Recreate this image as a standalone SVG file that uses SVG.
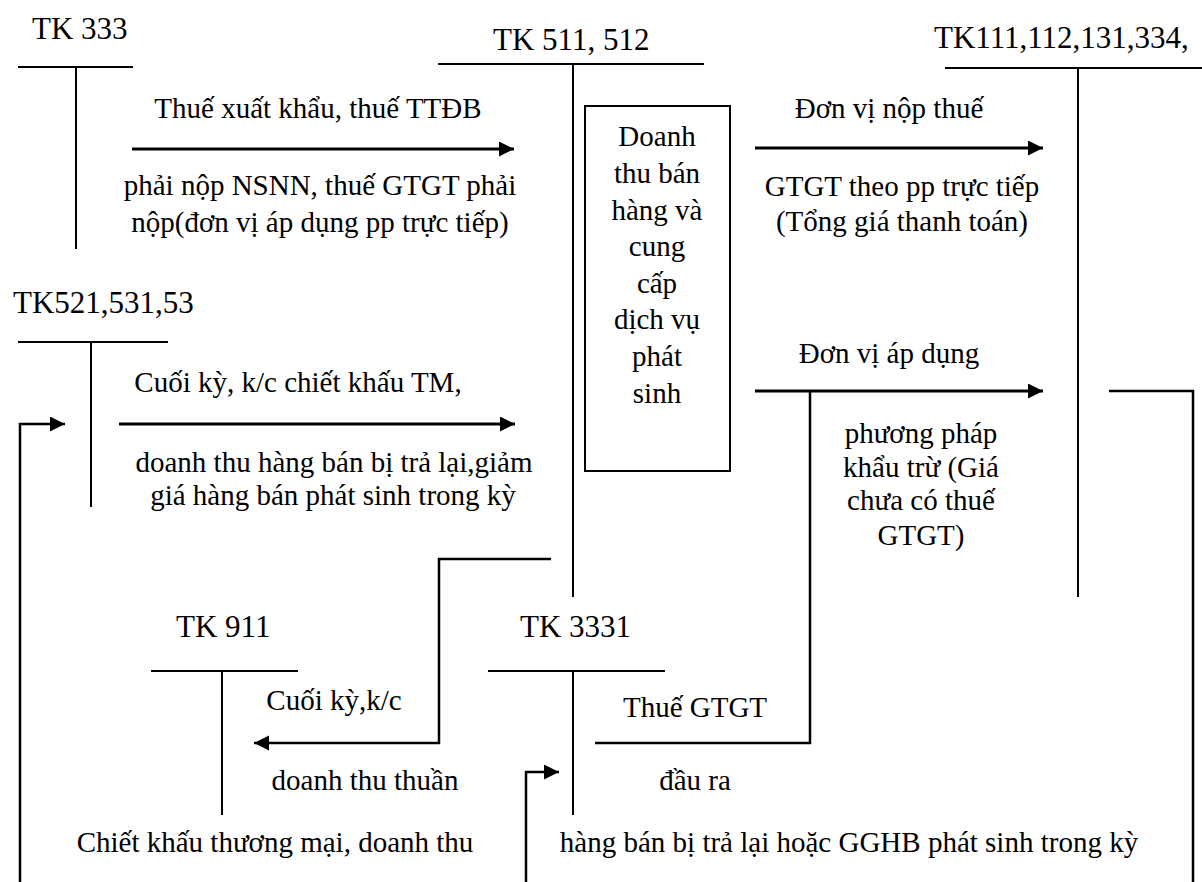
<svg xmlns="http://www.w3.org/2000/svg" width="1202" height="882" viewBox="0 0 1202 882" font-family="'Liberation Serif', 'Times New Roman', Times, 'DejaVu Serif', serif" font-size="29">
<style>
text{font-family:'Liberation Serif','Times New Roman',Times,'DejaVu Serif',serif;font-size:29px;fill:#000}
.k{font-size:31px}
.c{text-anchor:middle}
.t{stroke:#000;stroke-width:2;fill:none}
.a{stroke:#000;stroke-width:3;fill:none}
.e{stroke:#000;stroke-width:2.5;fill:none}
</style>
<defs>
<marker id="ah" markerUnits="userSpaceOnUse" markerWidth="16" markerHeight="16" refX="15" refY="7.5" orient="auto"><path d="M0,0L15,7.5L0,15z" fill="#000"/></marker>
</defs>
<rect width="1202" height="882" fill="#fff"/>
<g id="tk333"><text class="k" x="32" y="39">TK 333</text><path class="t" d="M18,67H133M76,67V249"/></g>
<g id="tk511"><text class="k" x="493" y="50">TK 511, 512</text><path class="t" d="M438,64H704M573,64V597"/></g>
<g id="box"><rect class="t" x="585" y="106" width="145" height="365"/>
<text class="c" x="657" y="146">Doanh</text>
<text class="c" x="657" y="183">thu bán</text>
<text class="c" x="657" y="220">hàng và</text>
<text class="c" x="657" y="256">cung</text>
<text class="c" x="657" y="293">cấp</text>
<text class="c" x="657" y="329">dịch vụ</text>
<text class="c" x="657" y="366">phát</text>
<text class="c" x="657" y="403">sinh</text></g>
<g id="tk111"><text class="k" x="934" y="48">TK111,112,131,334,</text><path class="t" d="M945,68H1202M1078,68V597"/></g>
<g id="tk521"><text class="k" x="13" y="313">TK521,531,53</text><path class="t" d="M18,342H168M91,342V507"/></g>
<g id="tk911"><text class="k" x="176" y="637">TK 911</text><path class="t" d="M151,671H298M222,671V815"/></g>
<g id="tk3331"><text class="k" x="520" y="637">TK 3331</text><path class="t" d="M488,671H665M573,671V815"/></g>
<g id="connectors">
<path class="a" d="M132,149H514" marker-end="url(#ah)"/>
<path class="a" d="M755,148H1043" marker-end="url(#ah)"/>
<path class="a" d="M119,424H515" marker-end="url(#ah)"/>
<path class="a" d="M755,391H1043" marker-end="url(#ah)"/>
<path class="e" d="M810,391V743H595"/>
<path class="e" d="M551,559H439V743H254" marker-end="url(#ah)"/>
<path class="e" d="M20,882V424H65" marker-end="url(#ah)"/>
<path class="e" d="M526,882V772H559" marker-end="url(#ah)"/>
<path class="e" d="M1109,391H1193V882"/>
</g>
<g id="labels">
<text class="c" x="318" y="118">Thuế xuất khẩu, thuế TTĐB</text>
<text class="c" x="320" y="195">phải nộp NSNN, thuế GTGT phải</text>
<text class="c" x="320" y="232">nộp(đơn vị áp dụng pp trực tiếp)</text>
<text class="c" x="889" y="118">Đơn vị nộp thuế</text>
<text class="c" x="902" y="196">GTGT theo pp trực tiếp</text>
<text class="c" x="902" y="231">(Tổng giá thanh toán)</text>
<text class="c" x="298" y="392">Cuối kỳ, k/c chiết khấu TM,</text>
<text class="c" x="334" y="472">doanh thu hàng bán bị trả lại,giảm</text>
<text class="c" x="333" y="505">giá hàng bán phát sinh trong kỳ</text>
<text class="c" x="889" y="363">Đơn vị áp dụng</text>
<text class="c" x="921" y="443">phương pháp</text>
<text class="c" x="921" y="477">khẩu trừ (Giá</text>
<text class="c" x="921" y="510">chưa có thuế</text>
<text class="c" x="921" y="545">GTGT)</text>
<text class="c" x="334" y="710">Cuối kỳ,k/c</text>
<text class="c" x="365" y="790">doanh thu thuần</text>
<text class="c" x="275" y="852">Chiết khấu thương mại, doanh thu</text>
<text class="c" x="695" y="717">Thuế GTGT</text>
<text class="c" x="695" y="790">đầu ra</text>
<text class="c" x="849" y="852">hàng bán bị trả lại hoặc GGHB phát sinh trong kỳ</text>
</g>
</svg>
